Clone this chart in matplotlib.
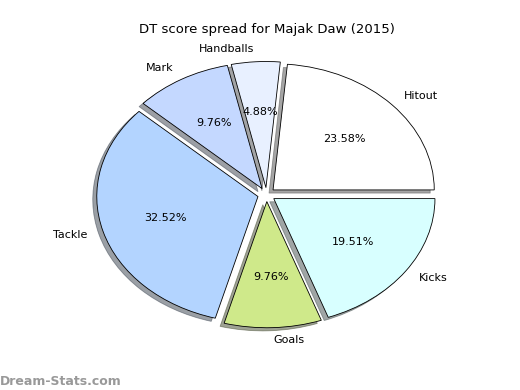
import matplotlib
matplotlib.use('Agg')
import matplotlib.pyplot as plt

labels = ['Hitout', 'Handballs', 'Mark', 'Tackle', 'Goals', 'Kicks']
scores = [29, 6, 12, 40, 12, 24]
colors = ['#ffffff', '#e8f0ff', '#c4d8ff', '#b3d4ff', '#cfe98a', '#d8ffff']
explode = [0.055] * len(scores)

fig = plt.figure(figsize=(5.2, 3.9), dpi=100)
ax = fig.add_axes([0.125, 0.116, 0.775, 0.77])
wedges, texts, autotexts = ax.pie(scores, labels=labels, colors=colors,
                                  explode=explode, autopct='%1.2f%%',
                                  shadow={'ox': -0.018, 'oy': -0.018},
                                  startangle=0,
                                  wedgeprops=dict(edgecolor='black', linewidth=0.6),
                                  textprops=dict(fontsize=8))
ax.set_aspect('auto')
ax.set_xlim(-1.25, 1.25)
ax.set_ylim(-1.19, 1.19)
ax.set_title('DT score spread for Majak Daw (2015)', fontsize=9.5, pad=8)
fig.text(0.0, 0.012, 'Dream-Stats.com', color='#999999', fontsize=9,
         fontweight='bold')
fig.savefig('out.png', dpi=100)
